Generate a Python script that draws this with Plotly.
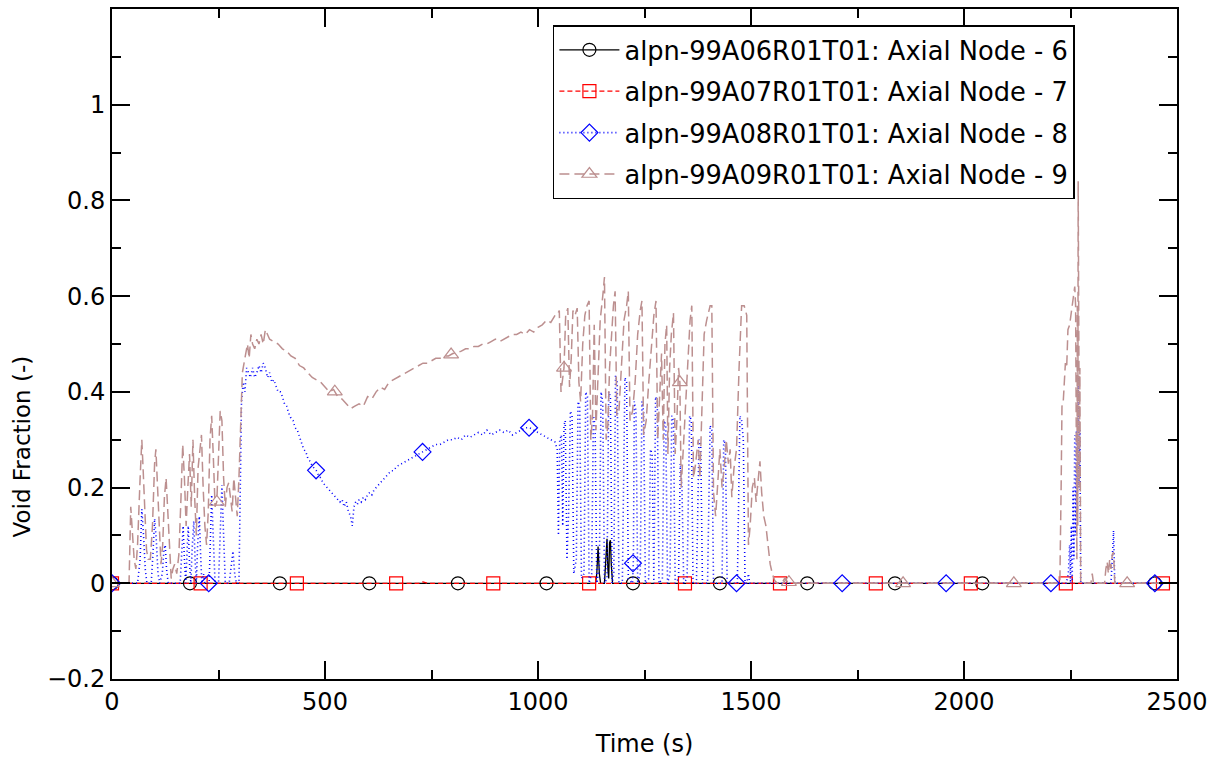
import numpy as np
import plotly.graph_objects as go

# ---- Node 6 (black, solid) ----
t6 = [0, 1135, 1138, 1141, 1144, 1147, 1156, 1159, 1162, 1164, 1166, 1168, 1170, 1172, 1175, 2470]
v6 = [0, 0, 0.02, 0.077, 0.02, 0.0, 0.0, 0.06, 0.093, 0.03, 0.01, 0.085, 0.09, 0.04, 0.0, 0.0]

# ---- Node 7 (red, dashed) ----
t7 = [0, 290, 295, 300, 720, 730, 740, 2470]
v7 = [0, 0, 0.004, 0, 0, 0.003, 0, 0]

# ---- Node 8 (blue, dotted) ----
t8 = [0, 60, 66, 70, 74, 78, 82, 92, 96, 100, 104, 108, 112, 118, 122, 125, 128, 132,
      160, 164, 167, 170, 173, 176, 179, 182, 185, 188, 192, 195, 198, 201, 205, 208, 211,
      215, 218, 228, 231, 234, 238, 242, 250, 254, 258, 262, 266, 275, 280, 284, 288, 292,
      298, 301, 304, 308, 312, 316, 320, 325, 330, 335, 340, 345, 350, 355, 360, 365, 370,
      375, 380, 385, 390, 395, 400, 405, 410, 415, 420, 425, 430, 435, 440, 445, 450, 455,
      460, 465, 470, 475, 480, 485, 490, 495, 500, 505, 510, 515, 520, 525, 530, 535, 540,
      545, 550, 555, 560, 564, 568, 572, 576, 580, 585, 590, 595, 600, 605, 610, 615, 620,
      625, 630, 635, 640, 645, 650, 655, 660, 665, 670, 680, 690, 700, 710, 720, 730, 740,
      750, 760, 770, 780, 790, 800, 810, 820, 830, 840, 850, 860, 870, 880, 890, 900, 910,
      920, 930, 940, 950, 960, 970, 980, 990, 1000, 1010, 1020, 1030, 1040,
      1045, 1048, 1051, 1055, 1058, 1061, 1064, 1068, 1072, 1076, 1080, 1084, 1090, 1094,
      1098, 1102, 1108, 1112, 1116, 1120, 1126, 1130, 1134, 1138, 1144, 1148, 1152, 1156,
      1162, 1166, 1170, 1174, 1178, 1182, 1186, 1190, 1198, 1204, 1208, 1212, 1222, 1223,
      1224, 1226, 1230, 1234, 1240, 1244, 1248, 1252, 1260, 1264, 1268, 1272, 1276, 1280,
      1284, 1292, 1296, 1300, 1304, 1310, 1314, 1318, 1322, 1330, 1334, 1338, 1342, 1350,
      1356, 1360, 1364, 1372, 1378, 1382, 1386, 1398, 1404, 1408, 1412, 1432, 1436, 1440,
      1444, 1468, 1474, 1478, 1482, 1486, 1490, 1494, 1497, 1500,
      2240, 2245, 2248, 2250, 2252, 2254, 2256, 2258, 2260, 2262, 2264, 2266, 2268, 2270,
      2272, 2274, 2345, 2348, 2351, 2354, 2470]
v8 = [0, 0, 0.05, 0.155, 0.10, 0.03, 0.0, 0.0, 0.06, 0.135, 0.09, 0.02, 0.0, 0.02, 0.07, 0.08, 0.03, 0.0,
      0.0, 0.08, 0.12, 0.05, 0.0, 0.06, 0.12, 0.04, 0.0, 0.07, 0.13, 0.05, 0.0, 0.08, 0.14, 0.06, 0.0,
      0.02, 0.0, 0.0, 0.10, 0.185, 0.09, 0.0, 0.0, 0.12, 0.205, 0.10, 0.0, 0.0, 0.04, 0.067, 0.02, 0.0,
      0.0, 0.20, 0.38, 0.42, 0.40, 0.45, 0.44, 0.43, 0.45, 0.43, 0.44, 0.455, 0.44, 0.46, 0.45, 0.43, 0.44,
      0.42, 0.425, 0.41, 0.40, 0.40, 0.39, 0.375, 0.37, 0.355, 0.345, 0.34, 0.325, 0.32, 0.305, 0.295, 0.28, 0.275,
      0.26, 0.255, 0.245, 0.24, 0.235, 0.225, 0.22, 0.21, 0.205, 0.20, 0.195, 0.19, 0.185, 0.18, 0.175, 0.17, 0.175,
      0.16, 0.17, 0.15, 0.14, 0.12, 0.16, 0.17, 0.165, 0.175, 0.17, 0.18, 0.175, 0.185, 0.19, 0.185, 0.195, 0.20,
      0.205, 0.21, 0.215, 0.22, 0.225, 0.23, 0.235, 0.235, 0.24, 0.245, 0.25, 0.255, 0.26, 0.265, 0.27, 0.275, 0.28,
      0.285, 0.29, 0.29, 0.295, 0.30, 0.30, 0.305, 0.30, 0.31, 0.305, 0.31, 0.315, 0.31, 0.32, 0.31, 0.315, 0.32,
      0.315, 0.32, 0.31, 0.315, 0.32, 0.325, 0.325, 0.32, 0.315, 0.31, 0.305, 0.30, 0.295,
      0.28, 0.10, 0.30, 0.31, 0.12, 0.33, 0.34, 0.05, 0.15, 0.36, 0.35, 0.02, 0.05, 0.38,
      0.37, 0.01, 0.02, 0.40, 0.39, 0.00, 0.02, 0.35, 0.33, 0.00, 0.03, 0.40, 0.38, 0.00,
      0.01, 0.40, 0.39, 0.00, 0.02, 0.435, 0.42, 0.00, 0.00, 0.43, 0.42, 0.01, 0.00, 0.042,
      0.05, 0.38, 0.36, 0.00, 0.02, 0.38, 0.36, 0.00, 0.01, 0.28, 0.27, 0.00, 0.39, 0.38,
      0.00, 0.01, 0.34, 0.33, 0.00, 0.02, 0.35, 0.34, 0.00, 0.01, 0.25, 0.20, 0.00, 0.01,
      0.35, 0.34, 0.00, 0.00, 0.30, 0.29, 0.00, 0.00, 0.33, 0.32, 0.00, 0.00, 0.30, 0.29,
      0.00, 0.00, 0.35, 0.34, 0.30, 0.00, 0.00, 0.02, 0.00, 0.00,
      0.0, 0.02, 0.08, 0.0, 0.12, 0.0, 0.20, 0.05, 0.31, 0.10, 0.32, 0.15, 0.43, 0.20,
      0.32, 0.0, 0.0, 0.05, 0.11, 0.0, 0.0]

# ---- Node 9 (rosy brown, long dash) ----
t9 = [0, 40, 44, 48, 52, 56, 60, 66, 70, 73, 77, 81, 85, 90, 95, 100, 103, 107, 111, 115, 119,
      123, 127, 131, 135, 139, 143, 147, 152, 157, 162, 166, 170, 174, 178, 182, 186, 190, 194,
      198, 202, 206, 210, 214, 218, 222, 226, 230, 234, 238, 242, 246, 250, 254, 258, 262, 266,
      270, 274, 278, 282, 286, 290, 294, 298, 302, 306, 310, 314, 318, 322, 326, 330, 335, 340,
      345, 350, 355, 360, 365, 370, 380, 390, 400, 410, 420, 430, 440, 450, 460, 470, 480, 490,
      500, 510, 520, 530, 540, 550, 560, 570, 580, 590, 600, 610, 620, 630, 640, 650, 660, 670,
      680, 690, 700, 710, 720, 730, 740, 750, 760, 770, 780, 790, 800, 810, 820, 830, 840, 850,
      860, 870, 880, 890, 900, 910, 920, 930, 940, 950, 960, 970, 980, 990, 1000, 1010, 1020,
      1030, 1040,
      1045, 1050, 1054, 1058, 1061, 1065, 1070, 1074, 1078, 1082, 1087, 1092, 1096, 1100, 1105,
      1110, 1115, 1120, 1124, 1128, 1132, 1136, 1140, 1146, 1152, 1156, 1160, 1164, 1168, 1172,
      1177, 1181, 1185, 1190, 1196, 1202, 1208, 1212, 1216, 1222, 1228, 1234, 1240, 1244, 1248,
      1254, 1260, 1266, 1272, 1277, 1281, 1286, 1290, 1294, 1298, 1302, 1305, 1309, 1313, 1318,
      1322, 1326, 1330, 1333, 1336, 1341, 1346, 1352, 1357, 1361, 1365, 1370, 1376, 1380, 1385,
      1390, 1396, 1404, 1408, 1412, 1417, 1422, 1427, 1432, 1437, 1442, 1447, 1451, 1455, 1460,
      1466, 1472, 1478, 1484, 1490, 1494, 1498, 1503, 1508, 1512, 1517, 1521, 1525, 1530, 1535,
      1540, 1545, 1550, 1556, 1562,
      1575, 1580, 1585, 1600, 2225, 2228, 2230, 2233, 2236, 2238, 2241, 2244, 2248, 2251, 2254,
      2257, 2260, 2262, 2263, 2264, 2265, 2266, 2267, 2268, 2269, 2270, 2271, 2272, 2274, 2298,
      2301, 2304, 2330, 2333, 2336, 2339, 2342, 2345, 2348, 2351, 2354, 2470]
v9 = [0, 0, 0.16, 0.10, 0.05, 0.03, 0.08, 0.22, 0.30, 0.24, 0.15, 0.07, 0.05, 0.05, 0.12, 0.25, 0.28, 0.20, 0.12, 0.04, 0.08,
      0.18, 0.22, 0.15, 0.06, 0.01, 0.03, 0.04, 0.02, 0.06, 0.18, 0.29, 0.22, 0.12, 0.20, 0.27, 0.16, 0.30, 0.18,
      0.10, 0.24, 0.28, 0.31, 0.20, 0.12, 0.08, 0.15, 0.30, 0.35, 0.26, 0.16, 0.17, 0.28, 0.36, 0.34, 0.22, 0.16,
      0.20, 0.21, 0.18, 0.15, 0.22, 0.17, 0.14, 0.22, 0.36, 0.44, 0.46, 0.48, 0.50, 0.47, 0.52, 0.50, 0.49, 0.51,
      0.50, 0.52, 0.50, 0.53, 0.52, 0.51, 0.505, 0.50, 0.49, 0.485, 0.475, 0.47, 0.455, 0.45, 0.44, 0.43, 0.425, 0.42,
      0.41, 0.40, 0.405, 0.39, 0.385, 0.375, 0.365, 0.37, 0.375, 0.37, 0.39, 0.385, 0.40, 0.41, 0.405, 0.42, 0.425, 0.43,
      0.435, 0.44, 0.445, 0.45, 0.455, 0.46, 0.46, 0.465, 0.47, 0.47, 0.475, 0.475, 0.48, 0.482, 0.485, 0.49, 0.49, 0.495,
      0.495, 0.50, 0.50, 0.505, 0.51, 0.505, 0.51, 0.515, 0.52, 0.52, 0.525, 0.52, 0.53, 0.525, 0.535, 0.54, 0.55,
      0.545, 0.56,
      0.56, 0.57, 0.40, 0.43, 0.45, 0.56, 0.575, 0.41, 0.47, 0.57, 0.56, 0.575, 0.42, 0.38, 0.50,
      0.56, 0.58, 0.59, 0.30, 0.35, 0.54, 0.32, 0.42, 0.55, 0.60, 0.64, 0.30, 0.33, 0.45, 0.52,
      0.58, 0.61, 0.35, 0.36, 0.45, 0.55, 0.58, 0.61, 0.34, 0.36, 0.42, 0.52, 0.57, 0.59, 0.31,
      0.34, 0.42, 0.50, 0.56, 0.59, 0.30, 0.40, 0.48, 0.30, 0.50, 0.54, 0.27, 0.45, 0.52, 0.565,
      0.27, 0.34, 0.45, 0.42, 0.20, 0.28, 0.36, 0.46, 0.55, 0.58, 0.22, 0.25, 0.30, 0.22, 0.40,
      0.52, 0.55, 0.58, 0.58, 0.19, 0.14, 0.22, 0.28, 0.20, 0.24, 0.30, 0.25, 0.28, 0.18, 0.24,
      0.28, 0.45, 0.58, 0.58, 0.56, 0.08, 0.12, 0.20, 0.22, 0.17, 0.22, 0.255, 0.19, 0.14, 0.12,
      0.08, 0.04, 0.02, 0.005, 0.0,
      0.004, 0.012, 0.003, 0.0, 0.0, 0.2, 0.37, 0.38, 0.44, 0.46, 0.45, 0.53, 0.54, 0.56, 0.59,
      0.60, 0.62, 0.58, 0.15, 0.45, 0.05, 0.58, 0.12, 0.84, 0.40, 0.55, 0.20, 0.45, 0.0, 0.0,
      0.02, 0.0, 0.0, 0.03, 0.045, 0.02, 0.05, 0.03, 0.06, 0.065, 0.0, 0.0]

# Marker times (symbols are drawn every N samples along each curve)
m6 = [0, 183, 394, 604, 812, 1020, 1223, 1427, 1632, 1838, 2043, 2448]
m7 = [0, 208, 434, 667, 895, 1120, 1345, 1568, 1793, 2016, 2239, 2467]
m8 = [0, 227, 479, 729, 979, 1223, 1466, 1714, 1958, 2204, 2448]
m9 = [0, 246, 523, 796, 1061, 1333, 1589, 1857, 2117, 2383]

names = ["alpn-99A06R01T01: Axial Node - 6",
         "alpn-99A07R01T01: Axial Node - 7",
         "alpn-99A08R01T01: Axial Node - 8",
         "alpn-99A09R01T01: Axial Node - 9"]

x_ticks = [0, 500, 1000, 1500, 2000, 2500]
y_ticks = [-0.2, 0, 0.2, 0.4, 0.6, 0.8, 1.0]
y_ticktext = ["\u22120.2", "0", "0.2", "0.4", "0.6", "0.8", "1"]

series = [
    (t6, v6, m6, "#000000", "solid", 1.3, "circle-open", 13),
    (t7, v7, m7, "#ff0000", "5px,3px", 1.3, "square-open", 13),
    (t8, v8, m8, "#0000ff", "1px,3px", 1.6, "diamond-open", 13),
    (t9, v9, m9, "#bc8f8f", "10px,5px", 1.5, "triangle-up-open", 13),
]

fig = go.Figure()

for i, (t, v, m, color, dash, lw, sym, ms) in enumerate(series):
    t = np.asarray(t, float)
    v = np.asarray(v, float)
    fig.add_trace(go.Scatter(
        x=t, y=v, mode="lines", showlegend=False, hoverinfo="skip",
        line=dict(color=color, width=lw, dash=dash)))
    my = np.interp(m, t, v)
    fig.add_trace(go.Scatter(
        x=m, y=my, mode="markers", showlegend=False, hoverinfo="skip",
        marker=dict(symbol=sym, size=ms, color=color, line=dict(color=color, width=1.2))))
    # legend entry
    fig.add_trace(go.Scatter(
        x=[None], y=[None], mode="lines+markers", name=names[i], legendgroup=f"g{i}",
        line=dict(color=color, width=lw, dash=dash),
        marker=dict(symbol=sym, size=ms, color=color, line=dict(color=color, width=1.2))))

font_family = "DejaVu Sans, Lucida Grande, sans-serif"

axis_common = dict(
    showline=True, linecolor="black", linewidth=2, mirror="ticks",
    ticks="inside", ticklen=18, tickwidth=1.5, tickcolor="black",
    showgrid=False, zeroline=False,
    tickfont=dict(family=font_family, size=24, color="black"),
)

fig.update_xaxes(
    range=[0, 2500], tickvals=x_ticks, ticktext=[str(v) for v in x_ticks],
    minor=dict(ticks="inside", ticklen=9, tickwidth=1.5, tickcolor="black", dtick=250, tick0=0, showgrid=False),
    title=dict(text="Time (s)", font=dict(family=font_family, size=24, color="black"), standoff=20),
    **axis_common)
fig.update_yaxes(
    range=[-0.2, 1.2], tickvals=y_ticks, ticktext=y_ticktext,
    minor=dict(ticks="inside", ticklen=9, tickwidth=1.5, tickcolor="black", dtick=0.1, tick0=0, showgrid=False),
    **axis_common)

fig.add_annotation(
    text="Void Fraction (-)", textangle=-90, showarrow=False,
    xref="paper", yref="paper", x=-0.0845, y=0.347, xanchor="center", yanchor="middle",
    font=dict(family=font_family, size=23, color="black"))

fig.update_layout(
    width=1221, height=763,
    margin=dict(l=112, r=44, t=7, b=84),
    paper_bgcolor="white", plot_bgcolor="white",
    legend=dict(
        x=0.414, y=0.976, xanchor="left", yanchor="top",
        bgcolor="white", bordercolor="black", borderwidth=1.5,
        font=dict(family=font_family, size=25.7, color="black"),
        itemwidth=60, tracegroupgap=5, traceorder="grouped"),
    showlegend=True,
)

fig.write_html("out.html")
